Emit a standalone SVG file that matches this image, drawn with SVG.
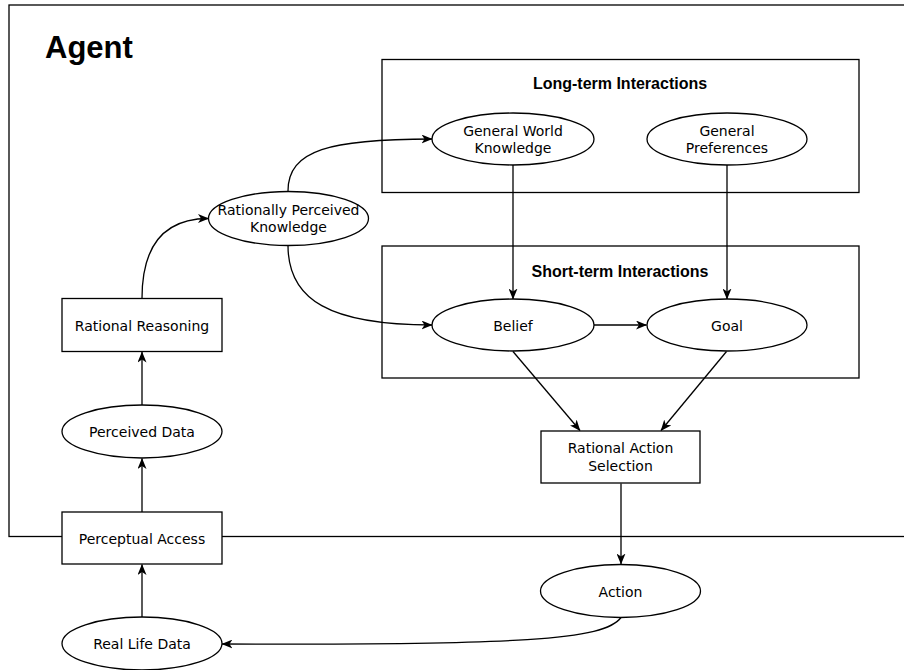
<svg xmlns="http://www.w3.org/2000/svg" width="904" height="670" viewBox="0 0 904 670">
  <style>
    .shape { fill: #ffffff; stroke: #000000; stroke-width: 1.3; }
    .frame { fill: none; stroke: #000000; stroke-width: 1.3; }
    .edge { fill: none; stroke: #000000; stroke-width: 1.3; marker-end: url(#arrow); }
    .label { font-family: "DejaVu Sans", sans-serif; font-size: 14px; fill: #000000; text-anchor: middle; }
    .title { font-family: "Liberation Sans", Arial, sans-serif; font-weight: bold; fill: #000000; }
    .group-title { font-size: 16px; text-anchor: middle; }
  </style>
  <defs>
    <marker id="arrow" markerUnits="userSpaceOnUse" viewBox="0 0 11 9" refX="10.5" refY="4.5" markerWidth="11" markerHeight="9" orient="auto">
      <path d="M0,0 L11,4.5 L0,9 L3,4.5 Z" fill="#000000"/>
    </marker>
  </defs>

  <rect id="background" x="0" y="0" width="904" height="670" fill="#ffffff"/>

  <!-- Agent boundary (open on the right) -->
  <g id="agent">
    <rect class="frame" x="9" y="5" width="1000" height="531.5"/>
    <text class="title" x="45" y="57.5" font-size="31">Agent</text>
  </g>

  <!-- Container groups -->
  <g id="long-term">
    <rect class="frame" x="382" y="59.5" width="477" height="133"/>
    <text class="title group-title" x="620" y="89">Long-term Interactions</text>
  </g>
  <g id="short-term">
    <rect class="frame" x="382" y="246" width="477" height="132"/>
    <text class="title group-title" x="620" y="276.5">Short-term Interactions</text>
  </g>

  <!-- Connectors -->
  <g id="connectors">
    <path class="edge" d="M142,617 L142,564.5"/>
    <path class="edge" d="M142,512 L142,458.5"/>
    <path class="edge" d="M142,405 L142,352"/>
    <path class="edge" d="M142,298.5 C142,250 160,218.5 208.5,218.5"/>
    <path class="edge" d="M288,191 C288,150 330,139 432,139"/>
    <path class="edge" d="M288,245.5 C288,300 330,325 432,325"/>
    <path class="edge" d="M513,165 L513,299"/>
    <path class="edge" d="M727,165 L727,299"/>
    <path class="edge" d="M594,325 L646.5,325"/>
    <path class="edge" d="M513,351.5 L580,430.5"/>
    <path class="edge" d="M726.5,351.5 L661,430.5"/>
    <path class="edge" d="M621,483.5 L621,564"/>
    <path class="edge" d="M621,617.5 C605,640 520,645 222,644"/>
  </g>

  <!-- Nodes -->
  <g id="general-world-knowledge">
    <ellipse class="shape" cx="513" cy="139" rx="81" ry="26"/>
    <text class="label" x="513" y="135.5">General World</text>
    <text class="label" x="513" y="153">Knowledge</text>
  </g>
  <g id="general-preferences">
    <ellipse class="shape" cx="727" cy="139" rx="80" ry="26"/>
    <text class="label" x="727" y="135.5">General</text>
    <text class="label" x="727" y="153">Preferences</text>
  </g>
  <g id="belief">
    <ellipse class="shape" cx="513" cy="325" rx="81" ry="26"/>
    <text class="label" x="513" y="330.5">Belief</text>
  </g>
  <g id="goal">
    <ellipse class="shape" cx="727" cy="325" rx="80" ry="26"/>
    <text class="label" x="727" y="330.5">Goal</text>
  </g>
  <g id="rationally-perceived-knowledge">
    <ellipse class="shape" cx="288.5" cy="218.5" rx="80" ry="27"/>
    <text class="label" x="288.5" y="215">Rationally Perceived</text>
    <text class="label" x="288.5" y="232">Knowledge</text>
  </g>
  <g id="rational-reasoning">
    <rect class="shape" x="62" y="298.5" width="160" height="53"/>
    <text class="label" x="142" y="330.5">Rational Reasoning</text>
  </g>
  <g id="perceived-data">
    <ellipse class="shape" cx="142" cy="431.5" rx="80" ry="26.5"/>
    <text class="label" x="142" y="437">Perceived Data</text>
  </g>
  <g id="perceptual-access">
    <rect class="shape" x="62" y="512" width="160" height="52"/>
    <text class="label" x="142" y="543.5">Perceptual Access</text>
  </g>
  <g id="real-life-data">
    <ellipse class="shape" cx="142" cy="643.5" rx="80" ry="26.5"/>
    <text class="label" x="142" y="649">Real Life Data</text>
  </g>
  <g id="rational-action-selection">
    <rect class="shape" x="541" y="431" width="159" height="52"/>
    <text class="label" x="620.5" y="453">Rational Action</text>
    <text class="label" x="620.5" y="471">Selection</text>
  </g>
  <g id="action">
    <ellipse class="shape" cx="620.5" cy="591" rx="80" ry="26.5"/>
    <text class="label" x="620.5" y="596.5">Action</text>
  </g>
</svg>
